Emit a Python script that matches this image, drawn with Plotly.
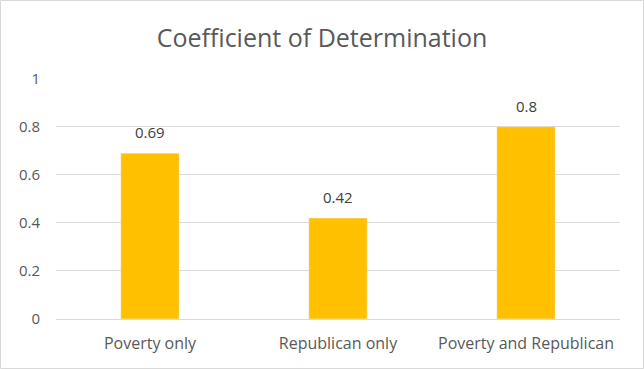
import plotly.graph_objects as go

categories = ["Poverty only", "Republican only", "Poverty and Republican"]
values = [0.69, 0.42, 0.8]
value_labels = ["0.69", "0.42", "0.8"]
y_ticks = [0, 0.2, 0.4, 0.6, 0.8, 1]
y_tick_labels = ["0", "0.2", "0.4", "0.6", "0.8", "1"]

W, H = 644, 369
ml, mr, mt, mb = 56, 24, 78, 50
pw, ph = W - ml - mr, H - mt - mb

font_family = "Open Sans, Liberation Sans, sans-serif"
txt = "#595959"

fig = go.Figure(go.Bar(
    x=categories, y=values, marker_color="#FFC000", width=0.31,
    hoverinfo="x+y",
))

for c, v, lab in zip(categories, values, value_labels):
    fig.add_annotation(x=c, y=v, text=lab, showarrow=False, yanchor="bottom",
                       yshift=9, font=dict(size=15, color="#404040", family=font_family))

fig.update_layout(
    width=W, height=H,
    margin=dict(l=ml, r=mr, t=mt, b=mb),
    paper_bgcolor="white", plot_bgcolor="white",
    title=dict(text="Coefficient of Determination", x=0.5, xanchor="center",
               y=1 - 38 / H, yanchor="middle",
               font=dict(size=25, color=txt, family=font_family)),
    showlegend=False,
    xaxis=dict(showgrid=False, showline=True, linecolor="#D9D9D9", linewidth=1,
               ticks="", ticklabelstandoff=10,
               tickfont=dict(size=16, color=txt, family=font_family)),
    yaxis=dict(range=[0, 1.003], tickvals=y_ticks, ticktext=y_tick_labels,
               showgrid=True, gridcolor="#D9D9D9", gridwidth=1, zeroline=False,
               showline=False, ticks="", ticklabelstandoff=15,
               tickfont=dict(size=15, color=txt, family=font_family)),
    shapes=[dict(type="rect", xref="paper", yref="paper",
                 x0=(-ml + 0.5) / pw, x1=(W - ml - 0.5) / pw,
                 y0=(-mb + 0.5) / ph, y1=(H - mb - 0.5) / ph,
                 line=dict(color="#D9D9D9", width=1), layer="below")],
)

fig.write_html("out.html", config={"displayModeBar": False},
               post_script="document.body.style.margin='0';document.body.style.overflow='hidden';")
